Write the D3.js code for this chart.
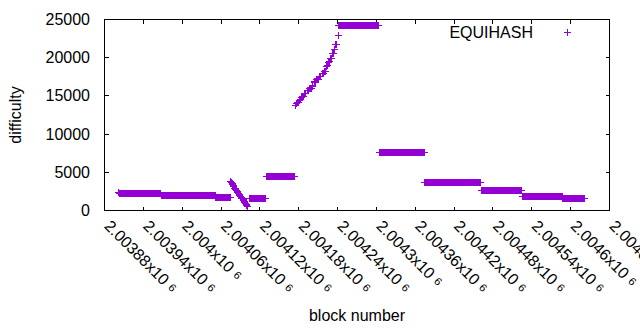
<!DOCTYPE html>
<html>
<head>
<meta charset="utf-8">
<script src="https://cdn.jsdelivr.net/npm/d3@7"></script>
<style>
  body { margin: 0; background: #fff; }
  svg text { font-family: "Liberation Sans", Arial, sans-serif; fill: #000; }
</style>
</head>
<body>
<div id="chart"></div>
<script>
// difficulty per block
var firstBlock = [2003902];
var firstDifficulty = [2400];

// flat stretches: every block from start to end has the same difficulty
var flatStart      = [2003903, 2003968, 2004052, 2004104, 2004130, 2004242, 2004305, 2004375, 2004462, 2004525, 2004588];
var flatEnd        = [2003967, 2004051, 2004074, 2004129, 2004173, 2004303, 2004374, 2004461, 2004524, 2004587, 2004621];
var flatDifficulty = [2190, 1900, 1650, 1510, 4500, 24180, 7620, 3710, 2570, 1890, 1530];

var rampDownFirst = 2004075;
var rampDownDifficulty = [3750, 3620, 3480, 3350, 3210, 3080, 2940, 2820, 2690, 2560, 2430, 2310, 2190, 2070,
  1960, 1850, 1730, 1620, 1510, 1400, 1290, 1180, 1050, 930, 810, 690, 560];

var rampUpBlocks = [2004175, 2004177, 2004178, 2004179, 2004181, 2004182, 2004183, 2004185, 2004186, 2004187,
  2004189, 2004190, 2004191, 2004193, 2004194, 2004195, 2004197, 2004198, 2004199, 2004201, 2004202, 2004204,
  2004205, 2004206, 2004208, 2004209, 2004210, 2004212, 2004213, 2004214, 2004216, 2004217, 2004218, 2004220,
  2004221, 2004223, 2004224, 2004226, 2004227, 2004229, 2004230, 2004232, 2004233, 2004235, 2004237, 2004238, 2004241];
var rampUpDifficulty = [13710, 14050, 14150, 14150, 14450, 14580, 14580, 14800, 14880, 14880,
  15250, 15320, 15320, 15650, 15750, 15750, 15950, 15970, 15970, 16250, 16320, 16750,
  16840, 16840, 17100, 17190, 17190, 17500, 17580, 17580, 17900, 17930, 17930, 18200,
  18230, 18850, 18920, 19400, 19440, 19880, 19880, 20550, 20610, 21050, 21700, 21740, 22920];

var xTicks = [2003880, 2003940, 2004000, 2004060, 2004120, 2004180, 2004240, 2004300, 2004360, 2004420, 2004480, 2004540, 2004600, 2004660];
var xTickLabels = ["2.00388", "2.00394", "2.004", "2.00406", "2.00412", "2.00418", "2.00424", "2.0043", "2.00436", "2.00442", "2.00448", "2.00454", "2.0046", "2.00466"];
var yTicks = [0, 5000, 10000, 15000, 20000, 25000];

var seriesName = "EQUIHASH";
var color = "#9400d3";

// build the point list
var points = [];
firstBlock.forEach(function (b, i) { points.push({ block: b, difficulty: firstDifficulty[i] }); });
flatStart.forEach(function (s, i) {
  for (var b = s; b <= flatEnd[i]; b++) points.push({ block: b, difficulty: flatDifficulty[i] });
});
rampDownDifficulty.forEach(function (d, i) { points.push({ block: rampDownFirst + i, difficulty: d }); });
rampUpBlocks.forEach(function (b, i) { points.push({ block: b, difficulty: rampUpDifficulty[i] }); });

var W = 640, H = 330;
var margin = { left: 104.5, right: 30.5, top: 19.5, bottom: 119.5 };
var width = W - margin.left - margin.right,
    height = H - margin.top - margin.bottom;

var svg = d3.select("#chart").append("svg")
  .attr("width", W).attr("height", H);

var x = d3.scaleLinear().domain([2003880, 2004660]).range([margin.left, margin.left + width]);
var y = d3.scaleLinear().domain([0, 25000]).range([margin.top + height, margin.top]);

var tickLen = 4;
var axes = svg.append("g").attr("stroke", "#000").attr("shape-rendering", "crispEdges");

// y ticks (left and mirrored right)
yTicks.forEach(function (t) {
  var py = Math.round(y(t) - 0.5) + 0.5;
  axes.append("line").attr("x1", margin.left).attr("x2", margin.left + tickLen).attr("y1", py).attr("y2", py);
  axes.append("line").attr("x1", margin.left + width).attr("x2", margin.left + width - tickLen).attr("y1", py).attr("y2", py);
  svg.append("text").attr("x", 90).attr("y", y(t) + 5.5)
    .attr("text-anchor", "end").attr("font-size", 16).text(t);
});

// x ticks (bottom and mirrored top)
xTicks.forEach(function (t, i) {
  var px = Math.round(x(t) - 0.5) + 0.5;
  axes.append("line").attr("x1", px).attr("x2", px).attr("y1", margin.top + height).attr("y2", margin.top + height - tickLen);
  axes.append("line").attr("x1", px).attr("x2", px).attr("y1", margin.top).attr("y2", margin.top + tickLen);
  var lbl = svg.append("text")
    .attr("transform", "translate(" + (x(t) - 1) + "," + 227 + ") rotate(45)")
    .attr("font-size", 16);
  lbl.append("tspan").text(xTickLabels[i] + "x10");
  lbl.append("tspan").attr("dx", 5).attr("dy", -2).attr("font-size", 11).text("6");
});

// border
axes.append("rect")
  .attr("x", margin.left).attr("y", margin.top)
  .attr("width", width).attr("height", height)
  .attr("fill", "none");

// axis titles
svg.append("text")
  .attr("transform", "translate(21," + (margin.top + height / 2) + ") rotate(-90)")
  .attr("text-anchor", "middle").attr("font-size", 16).text("difficulty");
svg.append("text")
  .attr("x", margin.left + width / 2).attr("y", 321)
  .attr("text-anchor", "middle").attr("font-size", 16).text("block number");

// plus markers
function plus(px, py) {
  px = Math.round(px - 0.5) + 0.5;
  py = Math.round(py - 0.5) + 0.5;
  return "M" + (px - 3.5) + "," + py + "H" + (px + 3.5) + "M" + px + "," + (py - 3.5) + "V" + (py + 3.5);
}

svg.append("g")
  .attr("stroke", color).attr("stroke-width", 1).attr("fill", "none")
  .attr("shape-rendering", "crispEdges")
  .selectAll("path")
  .data(points)
  .enter()
  .append("path")
  .attr("d", function (d) { return plus(x(d.block), y(d.difficulty)); });

// legend
svg.append("text").attr("x", 533).attr("y", 38)
  .attr("text-anchor", "end").attr("font-size", 16).text(seriesName);
svg.append("path")
  .attr("stroke", color).attr("fill", "none").attr("shape-rendering", "crispEdges")
  .attr("d", plus(567, 32.5));
</script>
</body>
</html>
